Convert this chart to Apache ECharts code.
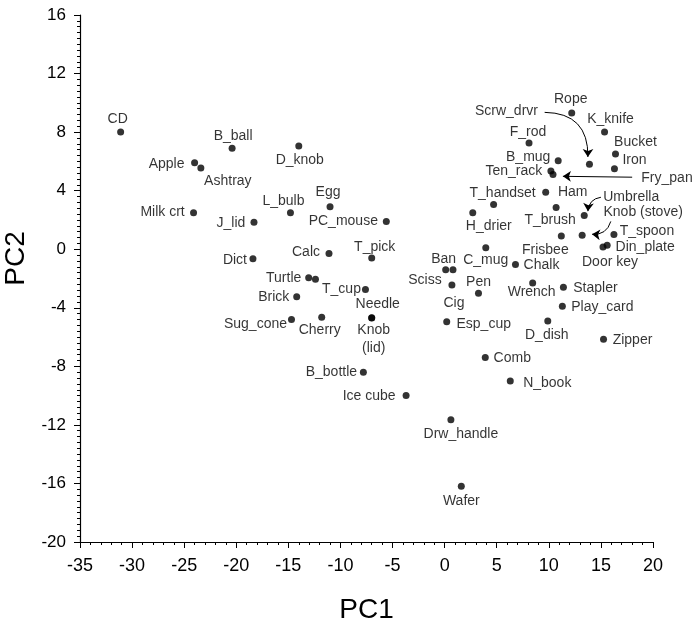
<!DOCTYPE html>
<html>
<head>
<meta charset="UTF-8">
<title>PC1 / PC2</title>
<script src="https://cdn.jsdelivr.net/npm/echarts@6/dist/echarts.min.js"></script>
<style>
  body { margin: 0; background: #fff; }
  #chart { width: 696px; height: 624px; }
</style>
</head>
<body>
<div id="chart"></div>
<script>
// object names and their scores on the two components
var names = ['CD', 'Apple', 'Ashtray', 'B_ball', 'D_knob', 'Egg', 'L_bulb', 'Milk crt', 'J_lid', 'PC_mouse',
  'Dict', 'Calc', 'T_pick', 'Turtle', '', 'Brick', 'T_cup', 'Needle', 'Knob\n(lid)', 'Sug_cone',
  'Cherry', 'B_bottle', 'Ice cube', 'Drw_handle', 'Wafer', 'Rope', 'K_knife', 'F_rod', 'Bucket', 'B_mug',
  'Scrw_drvr', 'Iron', 'Ten_rack', 'Fry_pan', 'T_handset', 'Ham', 'H_drier', 'T_brush', 'Umbrella', 'Knob (stove)',
  'Frisbee', 'T_spoon', 'Din_plate', 'Door key', 'C_mug', 'Chalk', 'Ban', 'Sciss', 'Cig', 'Pen',
  'Wrench', 'Stapler', 'Play_card', 'Esp_cup', 'D_dish', 'Zipper', 'Comb', 'N_book'];
var pc1 = [-31.1, -24.0, -23.4, -20.4, -14.0, -11.0, -14.8, -24.1, -18.3, -5.6,
  -18.4, -11.1, -7.0, -13.05, -12.4, -14.2, -7.6, -7.0, -7.0, -14.7,
  -11.8, -7.8, -3.7, 0.6, 1.6, 12.2, 15.35, 8.1, 16.4, 10.9,
  13.9, 16.3, 10.2, 10.4, 4.7, 9.7, 2.7, 10.7, 13.4, 13.2,
  11.2, 16.25, 15.6, 15.2, 3.95, 6.8, 0.1, 0.8, 0.7, 3.25,
  8.45, 11.4, 11.3, 0.2, 9.9, 15.25, 3.9, 6.3];
var pc2 = [8.0, 5.9, 5.55, 6.9, 7.05, 2.9, 2.5, 2.5, 1.85, 1.9,
  -0.65, -0.3, -0.6, -1.95, -2.05, -3.25, -2.75, -4.68, -4.7, -4.8,
  -4.65, -8.4, -10.0, -11.65, -16.2, 9.3, 8.0, 7.25, 6.5, 6.05,
  5.8, 5.5, 5.35, 5.1, 3.05, 3.9, 2.5, 2.85, 2.3, 0.95,
  0.9, 1.0, 0.27, 0.15, 0.1, -1.05, -1.4, -1.4, -2.45, -3.0,
  -2.3, -2.6, -3.9, -4.95, -4.9, -6.15, -7.4, -9.0];

// callout arrows (from label towards point), in data units
var arrowFrom = [[9.6, 9.35], [18.0, 4.92], [15.0, 3.55], [15.95, 1.9]];
var arrowTo = [[13.75, 6.3], [11.35, 4.98], [13.75, 2.6], [14.15, 1.02]];
var arrowBend = [0.5, 0, -0.4, 0.4];

// where each label sits relative to its dot (pixels)
var labelOffset = {
  'CD': [-3, -13], 'Apple': [-28, 1], 'Ashtray': [27, 13], 'B_ball': [1, -12], 'D_knob': [1, 14],
  'Egg': [-2, -15], 'L_bulb': [-7, -11], 'Milk crt': [-31, 0], 'J_lid': [-23, 1], 'PC_mouse': [-43, 0],
  'Dict': [-18, 1], 'Calc': [-23, -1], 'T_pick': [3, -11], 'Turtle': [-25, 0], 'Brick': [-23, 0],
  'T_cup': [-24, 0], 'Needle': [6, -14], 'Knob\n(lid)': [2, 21], 'Sug_cone': [-36, 5], 'Cherry': [-2, 13],
  'B_bottle': [-32, 0], 'Ice cube': [-37, 1], 'Drw_handle': [10, 14], 'Wafer': [0, 15], 'Rope': [-1, -14],
  'K_knife': [6, -13], 'F_rod': [-1, -11], 'Bucket': [20, -12], 'B_mug': [-30, -4], 'Scrw_drvr': [-83, -53],
  'Iron': [20, -9], 'Ten_rack': [-37, 0], 'Fry_pan': [114, 4], 'T_handset': [9, -11], 'Ham': [27, 0],
  'H_drier': [16, 14], 'T_brush': [-6, 13], 'Umbrella': [47, -18], 'Knob (stove)': [61, -23], 'Frisbee': [-16, 14],
  'T_spoon': [33, -3], 'Din_plate': [38, 2], 'Door key': [7, 15], 'C_mug': [0, 12], 'Chalk': [26, 1],
  'Ban': [-2, -11], 'Sciss': [-28, 10], 'Cig': [2, 18], 'Pen': [0, -11], 'Wrench': [-1, 9],
  'Stapler': [32, 1], 'Play_card': [40, 1], 'Esp_cup': [37, 2], 'D_dish': [-1, 14], 'Zipper': [29, 1],
  'Comb': [27, 1], 'N_book': [37, 2]
};

var points = names.map(function (n, i) {
  return {
    name: n,
    value: [pc1[i], pc2[i]],
    label: { show: n !== '', offset: labelOffset[n] || [0, 0] }
  };
});

var arrows = arrowFrom.map(function (p, i) {
  return { coords: [p, arrowTo[i]], lineStyle: { curveness: arrowBend[i] } };
});

var font = 'Liberation Sans, Arial, Helvetica, sans-serif';
var chart = echarts.init(document.getElementById('chart'));
chart.setOption({
  animation: false,
  grid: { left: 80, right: 43, top: 15, bottom: 82, outerBoundsMode: 'none' },
  xAxis: {
    type: 'value', min: -35, max: 20, interval: 5,
    name: 'PC1', nameLocation: 'middle', nameGap: 54,
    nameTextStyle: { fontSize: 28, color: '#000', fontFamily: font },
    axisLine: { onZero: false, lineStyle: { color: '#000', width: 1.2 } },
    axisTick: { length: 6, lineStyle: { color: '#000' } },
    minorTick: { show: true, splitNumber: 5, length: 3, lineStyle: { color: '#000' } },
    splitLine: { show: false },
    axisLabel: { fontSize: 18, color: '#000', margin: 15, fontFamily: font }
  },
  yAxis: {
    type: 'value', min: -20, max: 16, interval: 4,
    name: 'PC2', nameLocation: 'middle', nameGap: 48,
    nameTextStyle: { fontSize: 28, color: '#000', fontFamily: font, padding: [0, 0, 0, 40] },
    axisLine: { show: true, onZero: false, lineStyle: { color: '#000', width: 1.2 } },
    axisTick: { show: true, length: 6, lineStyle: { color: '#000' } },
    minorTick: { show: true, splitNumber: 10, length: 3, lineStyle: { color: '#000' } },
    splitLine: { show: false },
    axisLabel: { fontSize: 17, color: '#000', margin: 14, fontFamily: font }
  },
  series: [
    {
      type: 'scatter',
      data: points,
      symbolSize: 7,
      itemStyle: { color: '#000' },
      label: {
        position: 'inside', formatter: '{b}', color: '#000',
        fontSize: 14, lineHeight: 18, fontFamily: font
      }
    },
    {
      type: 'lines',
      coordinateSystem: 'cartesian2d',
      data: arrows,
      symbol: ['none', 'arrow'],
      symbolSize: 8,
      lineStyle: { color: '#000', width: 1, opacity: 1 }
    }
  ]
});
</script>
</body>
</html>
